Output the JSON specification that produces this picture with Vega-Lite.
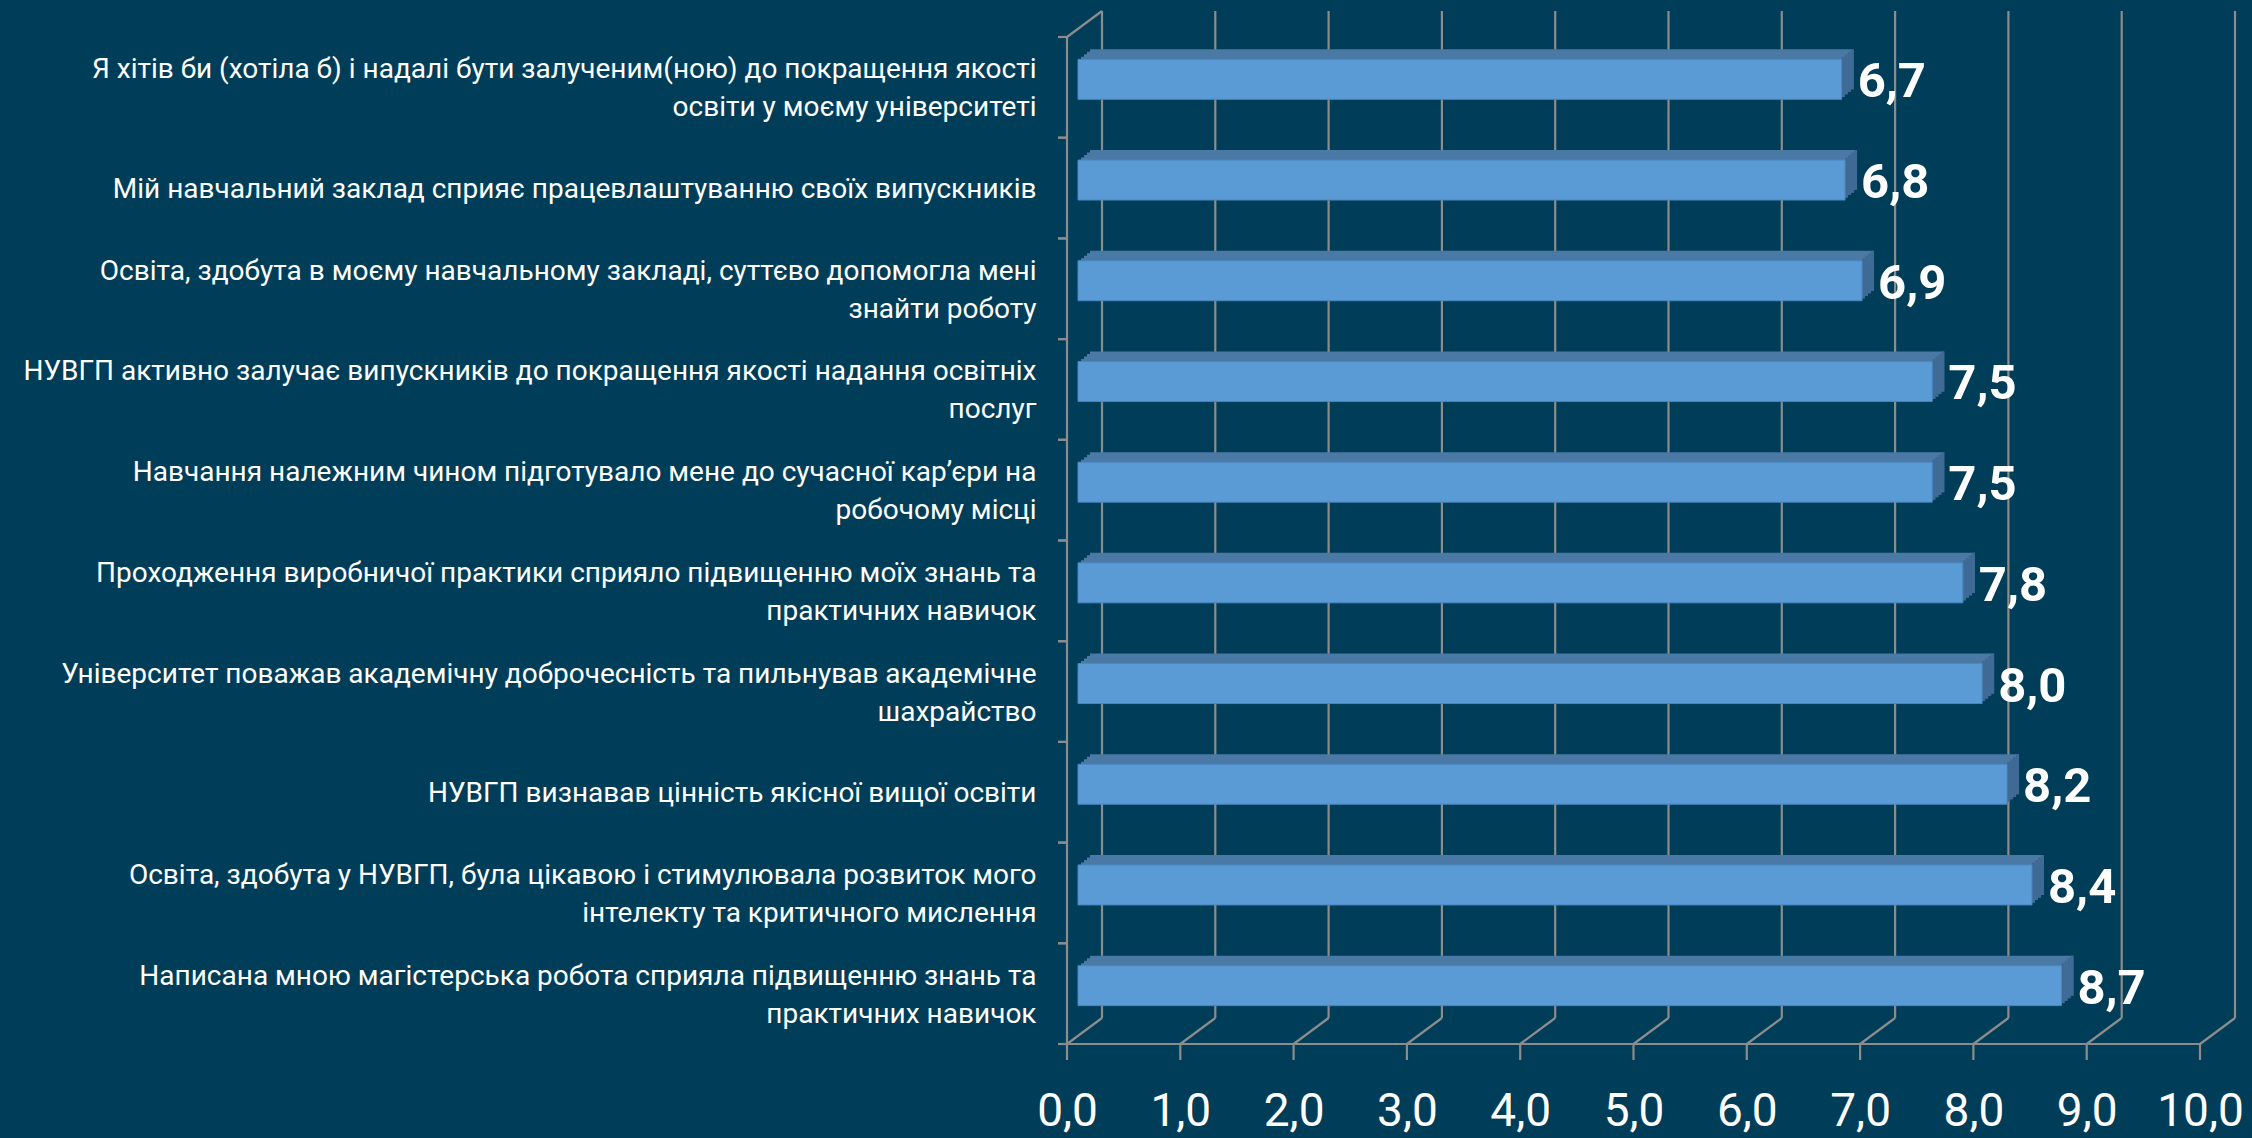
{
  "$schema": "https://vega.github.io/schema/vega-lite/v6.json",
  "width": 1133,
  "height": 1007,
  "autosize": {"type": "none"},
  "padding": {"left": 1078, "top": 29, "right": 41, "bottom": 102},
  "background": "#003d58",
  "config": {
    "view": {"stroke": null},
    "font": "Roboto",
    "axis": {"domain": false, "ticks": false, "grid": false, "title": null, "labelColor": "#ffffff", "labelFont": "Roboto"},
    "locale": {"number": {"decimal": ",", "thousands": " ", "grouping": [3], "currency": ["", " грн"]}}
  },
  "datasets": {
    "scores": [
      {"label": "Я хітів би (хотіла б) і надалі бути залученим(ною) до покращення якості\nосвіти у моєму університеті", "value": 6.74},
      {"label": "Мій навчальний заклад сприяє працевлаштуванню своїх випускників", "value": 6.77},
      {"label": "Освіта, здобута в моєму навчальному закладі, суттєво допомогла мені\nзнайти роботу", "value": 6.92},
      {"label": "НУВГП активно залучає випускників до покращення якості надання освітніх\nпослуг", "value": 7.54},
      {"label": "Навчання належним чином підготувало мене  до сучасної кар’єри на\nробочому місці", "value": 7.54},
      {"label": "Проходження виробничої практики  сприяло підвищенню моїх знань та\nпрактичних навичок", "value": 7.81},
      {"label": "Університет поважав академічну доброчесність та пильнував академічне\nшахрайство", "value": 7.98},
      {"label": "НУВГП визнавав цінність якісної вищої освіти", "value": 8.2},
      {"label": "Освіта, здобута у НУВГП, була цікавою і стимулювала розвиток мого\nінтелекту та критичного мислення", "value": 8.42},
      {"label": "Написана мною магістерська робота сприяла підвищенню знань та\nпрактичних навичок", "value": 8.68}
    ],
    "ticks": [{"t": 0}, {"t": 1}, {"t": 2}, {"t": 3}, {"t": 4}, {"t": 5}, {"t": 6}, {"t": 7}, {"t": 8}, {"t": 9}, {"t": 10}]
  },
  "layer": [
    {
      "data": {"name": "ticks"},
      "mark": {"type": "rule", "color": "#8c8c8c", "strokeWidth": 2.2, "xOffset": 24, "yOffset": -18, "y2Offset": -18},
      "encoding": {
        "x": {
          "field": "t", "type": "quantitative", "title": null,
          "scale": {"domain": [0, 10], "nice": false, "zero": true},
          "axis": {
            "values": [0, 1, 2, 3, 4, 5, 6, 7, 8, 9, 10], "format": ".1f",
            "domain": false, "ticks": false, "grid": false, "title": null,
            "labelFontSize": 46, "labelColor": "#ffffff", "labelFont": "Roboto",
            "labelOffset": -11, "labelPadding": 89, "labelBaseline": "alphabetic",
            "labelFlush": false, "labelOverlap": false
          }
        },
        "y": {"value": 0},
        "y2": {"value": "height"}
      }
    },
    {
      "data": {"name": "ticks"},
      "mark": {"type": "rule", "color": "#8c8c8c", "strokeWidth": 2.2, "xOffset": -11, "x2Offset": 24, "yOffset": 8, "y2Offset": -18},
      "encoding": {
        "x": {"field": "t", "type": "quantitative", "title": null},
        "x2": {"field": "t"},
        "y": {"value": "height"},
        "y2": {"value": "height"}
      }
    },
    {
      "data": {"name": "ticks"},
      "mark": {"type": "rule", "color": "#8c8c8c", "strokeWidth": 2.2, "xOffset": -11, "yOffset": 8, "y2Offset": 24},
      "encoding": {
        "x": {"field": "t", "type": "quantitative", "title": null},
        "y": {"value": "height"},
        "y2": {"value": "height"}
      }
    },
    {
      "data": {"values": [{"a": 0, "b": 10}]},
      "mark": {"type": "rule", "color": "#8c8c8c", "strokeWidth": 2.2, "xOffset": -11, "x2Offset": -11, "yOffset": 8, "y2Offset": 8},
      "encoding": {
        "x": {"field": "a", "type": "quantitative", "title": null},
        "x2": {"field": "b"},
        "y": {"value": "height"},
        "y2": {"value": "height"}
      }
    },
    {
      "data": {"values": [{"a": 0}]},
      "mark": {"type": "rule", "color": "#8c8c8c", "strokeWidth": 2.2, "xOffset": -11, "yOffset": 8, "y2Offset": 8},
      "encoding": {
        "x": {"field": "a", "type": "quantitative", "title": null},
        "y": {"value": 0},
        "y2": {"value": "height"}
      }
    },
    {
      "data": {"values": [{"a": 0}]},
      "mark": {"type": "rule", "color": "#8c8c8c", "strokeWidth": 2.2, "xOffset": -11, "x2Offset": 24, "yOffset": 8, "y2Offset": -18},
      "encoding": {
        "x": {"field": "a", "type": "quantitative", "title": null},
        "x2": {"field": "a"},
        "y": {"value": 0},
        "y2": {"value": 0}
      }
    },
    {
      "data": {"name": "scores"},
      "mark": {"type": "rule", "color": "#8c8c8c", "strokeWidth": 2.2, "xOffset": -20, "x2Offset": -11, "yOffset": 8},
      "encoding": {
        "y": {"field": "label", "type": "nominal", "sort": null, "bandPosition": 0, "title": null},
        "x": {"datum": 0, "type": "quantitative"},
        "x2": {"datum": 0}
      }
    },
    {
      "data": {"name": "scores"},
      "mark": {"type": "rule", "color": "#8c8c8c", "strokeWidth": 2.2, "xOffset": -20, "x2Offset": -11, "yOffset": 8},
      "encoding": {
        "y": {"field": "label", "type": "nominal", "sort": null, "bandPosition": 1, "title": null},
        "x": {"datum": 0, "type": "quantitative"},
        "x2": {"datum": 0}
      }
    },
    {
      "data": {"name": "scores"},
      "mark": {"type": "bar", "color": "#4a79a5", "height": {"band": 0.397}, "xOffset": 3, "x2Offset": 3, "yOffset": -2.5, "y2Offset": -2.5},
      "encoding": {
        "y": {"field": "label", "type": "nominal", "sort": null, "title": null},
        "x": {"field": "value", "type": "quantitative", "title": null}
      }
    },
    {
      "data": {"name": "scores"},
      "mark": {"type": "bar", "color": "#4a79a5", "height": {"band": 0.397}, "xOffset": 6, "x2Offset": 6, "yOffset": -5, "y2Offset": -5},
      "encoding": {
        "y": {"field": "label", "type": "nominal", "sort": null, "title": null},
        "x": {"field": "value", "type": "quantitative", "title": null}
      }
    },
    {
      "data": {"name": "scores"},
      "mark": {"type": "bar", "color": "#4a79a5", "height": {"band": 0.397}, "xOffset": 9, "x2Offset": 9, "yOffset": -7.5, "y2Offset": -7.5},
      "encoding": {
        "y": {"field": "label", "type": "nominal", "sort": null, "title": null},
        "x": {"field": "value", "type": "quantitative", "title": null}
      }
    },
    {
      "data": {"name": "scores"},
      "mark": {"type": "bar", "color": "#4a79a5", "height": {"band": 0.397}, "xOffset": 12, "x2Offset": 12, "yOffset": -10, "y2Offset": -10},
      "encoding": {
        "y": {"field": "label", "type": "nominal", "sort": null, "title": null},
        "x": {"field": "value", "type": "quantitative", "title": null}
      }
    },
    {
      "data": {"name": "scores"},
      "mark": {"type": "bar", "color": "#3e6a95", "height": {"band": 0.397}, "xOffset": 0, "x2Offset": 3, "yOffset": -2.5, "y2Offset": -2.5},
      "encoding": {
        "y": {"field": "label", "type": "nominal", "sort": null, "title": null},
        "x": {"field": "value", "type": "quantitative", "title": null},
        "x2": {"field": "value"}
      }
    },
    {
      "data": {"name": "scores"},
      "mark": {"type": "bar", "color": "#3e6a95", "height": {"band": 0.397}, "xOffset": 3, "x2Offset": 6, "yOffset": -5, "y2Offset": -5},
      "encoding": {
        "y": {"field": "label", "type": "nominal", "sort": null, "title": null},
        "x": {"field": "value", "type": "quantitative", "title": null},
        "x2": {"field": "value"}
      }
    },
    {
      "data": {"name": "scores"},
      "mark": {"type": "bar", "color": "#3e6a95", "height": {"band": 0.397}, "xOffset": 6, "x2Offset": 9, "yOffset": -7.5, "y2Offset": -7.5},
      "encoding": {
        "y": {"field": "label", "type": "nominal", "sort": null, "title": null},
        "x": {"field": "value", "type": "quantitative", "title": null},
        "x2": {"field": "value"}
      }
    },
    {
      "data": {"name": "scores"},
      "mark": {"type": "bar", "color": "#3e6a95", "height": {"band": 0.397}, "xOffset": 9, "x2Offset": 12, "yOffset": -10, "y2Offset": -10},
      "encoding": {
        "y": {"field": "label", "type": "nominal", "sort": null, "title": null},
        "x": {"field": "value", "type": "quantitative", "title": null},
        "x2": {"field": "value"}
      }
    },
    {
      "data": {"name": "scores"},
      "mark": {"type": "bar", "color": "#5b9bd5", "stroke": "#4a87c2", "strokeWidth": 1, "height": {"band": 0.397}},
      "encoding": {
        "y": {
          "field": "label", "type": "nominal", "sort": null, "title": null,
          "scale": {"paddingInner": 0, "paddingOuter": 0},
          "axis": {
            "labelExpr": "split(datum.label, '\\n')",
            "domain": false, "ticks": false, "grid": false, "title": null,
            "labelFontSize": 28, "labelColor": "#ffffff", "labelFont": "Roboto",
            "labelLineHeight": 38, "labelPadding": 42,
            "labelOffset": {"condition": {"test": "indexof(datum.label, '\\n') >= 0", "value": -9}, "value": 10},
            "labelAlign": "right", "labelBaseline": "middle", "labelLimit": 0
          }
        },
        "x": {"field": "value", "type": "quantitative", "title": null}
      }
    },
    {
      "data": {"name": "scores"},
      "mark": {"type": "text", "align": "left", "baseline": "middle", "dx": 16, "dy": 3, "fontSize": 49, "fontWeight": "bold", "color": "#ffffff", "font": "Roboto"},
      "encoding": {
        "y": {"field": "label", "type": "nominal", "sort": null, "title": null},
        "x": {"field": "value", "type": "quantitative", "title": null},
        "text": {"field": "value", "type": "quantitative", "format": ".1f"}
      }
    }
  ]
}
